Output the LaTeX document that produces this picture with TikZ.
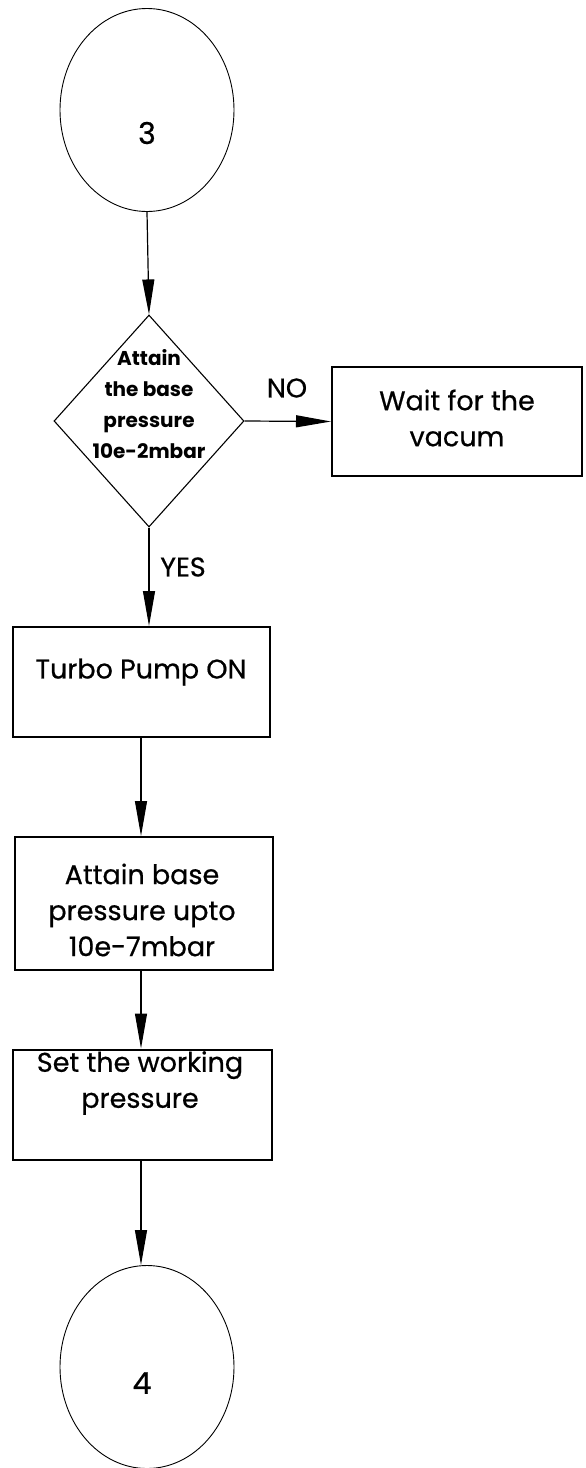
\documentclass[tikz,border=0pt]{standalone}
\usepackage{fontspec}
\setmainfont{Poppins}
\newfontfamily\medfont[FakeBold=0.6]{Poppins}
\usetikzlibrary{shapes.geometric,arrows.meta}
\begin{document}
\begin{tikzpicture}[x=1pt,y=-1pt,
  conn/.style={draw,ellipse,line width=0.9pt,inner sep=0pt,minimum width=174pt,minimum height=203pt},
  pbox/.style={draw,rectangle,line width=2pt,inner sep=0pt},
  dec/.style={draw,diamond,line width=1.1pt,inner sep=0pt,minimum width=190pt,minimum height=212pt},
  txt/.style={align=center,font=\medfont\fontsize{27}{36}\selectfont},
  dtxt/.style={align=center,font=\fontsize{20}{31}\selectfont\bfseries},
  arr/.style={line width=1.2pt,-{Triangle[length=35pt,width=12pt]}}]
\useasboundingbox (0,0) rectangle (586,1468);
\node[conn] (c3) at (147,110) {};
\node[font=\medfont\fontsize{30}{34}\selectfont] (t3) at (147,133) {3};
\node[dec] (d) at (149,421) {};
\node[dtxt] (dt) at (149,404) {Attain\\the base\\pressure\\10e-2mbar};
\node[pbox,minimum width=250pt,minimum height=109pt] (w) at (457,421.5) {};
\node[txt] (wt) at (457,418) {Wait for the\\vacum};
\node[txt] (no) at (287,388) {NO};
\node[txt] (yes) at (183,567) {YES};
\node[pbox,minimum width=257pt,minimum height=110pt] (tp) at (141,682) {};
\node[txt] (tpt) at (141,672) {Turbo Pump ON};
\node[pbox,minimum width=258pt,minimum height=133pt] (ab) at (144,903.5) {};
\node[txt] (abt) at (142,910) {Attain base\\pressure upto\\10e-7mbar};
\node[pbox,minimum width=259pt,minimum height=110pt] (sw) at (142.5,1104.5) {};
\node[txt] (swt) at (140,1083) {Set the working\\pressure};
\node[conn] (c4) at (147,1367) {};
\node[font=\medfont\fontsize{30}{34}\selectfont] (t4) at (142,1383) {4};
\draw[arr] (c3.south) -- (d.north);
\draw[arr] (d.east) -- (w.west);
\draw[arr] (d.south) -- (tp.north -| d.south);
\draw[arr] (tp.south) -- (tp.south |- ab.north);
\draw[arr] (tp.south |- ab.south) -- (tp.south |- sw.north);
\draw[arr] (tp.south |- sw.south) -- (c4.north -| tp.south);
\end{tikzpicture}
\end{document}
